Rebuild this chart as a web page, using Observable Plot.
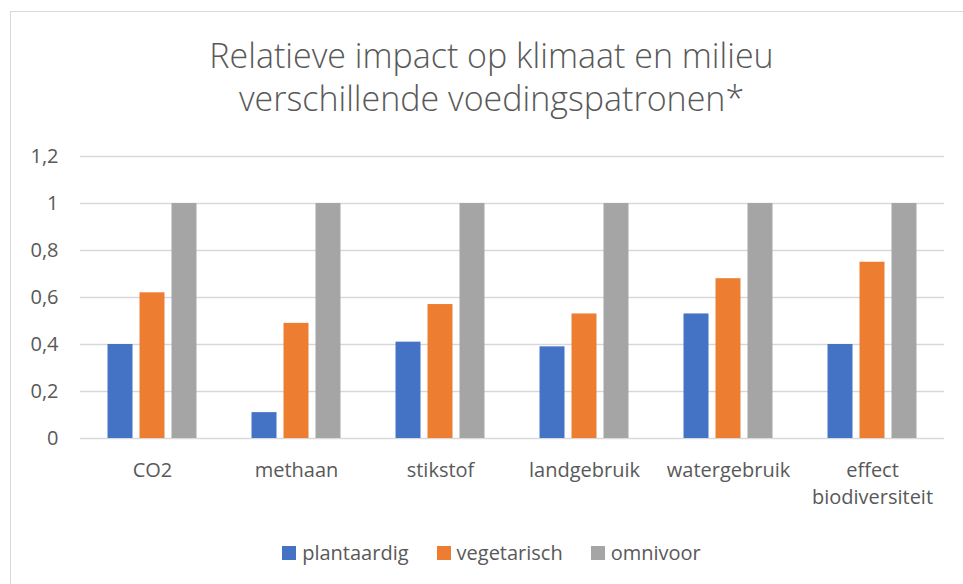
<!DOCTYPE html>
<html><head><meta charset="utf-8">
<script src="https://cdn.jsdelivr.net/npm/d3@7"></script>
<script src="https://cdn.jsdelivr.net/npm/@observablehq/plot@0.6"></script>
<style>
body{margin:0;background:#fff;font-family:"Open Sans",sans-serif;}
#wrap{position:relative;width:963px;height:584px;overflow:hidden;background:#fff;}
#border{position:absolute;left:10px;top:11px;width:1000px;height:620px;border:1.5px solid #d9d9d9;box-sizing:border-box;}
#title{position:absolute;left:10px;top:34px;width:963px;text-align:center;color:#595959;font-size:34px;line-height:43px;font-weight:300;}
#chart{position:absolute;left:0;top:0;}
#legend{position:absolute;left:10px;top:539px;width:963px;display:flex;justify-content:center;align-items:center;gap:28px;color:#595959;font-size:20px;}
#legend .item{display:flex;align-items:center;gap:6px;}
#legend .sw{width:14px;height:14px;display:inline-block;}
</style></head>
<body>
<div id="wrap">
  <div id="border"></div>
  <div id="title">Relatieve impact op klimaat en milieu<br>verschillende voedingspatronen*</div>
  <div id="chart"></div>
  <div id="legend"></div>
</div>
<script>
const categories = ["CO2", "methaan", "stikstof", "landgebruik", "watergebruik", "effect\nbiodiversiteit"];
const series = ["plantaardig", "vegetarisch", "omnivoor"];
const plantaardig = [0.40, 0.11, 0.41, 0.39, 0.53, 0.40];
const vegetarisch = [0.62, 0.49, 0.57, 0.53, 0.68, 0.75];
const omnivoor = [1, 1, 1, 1, 1, 1];
const yTicks = [0, 0.2, 0.4, 0.6, 0.8, 1, 1.2];
const colors = ["#4472C4", "#ED7D31", "#A5A5A5"];

const valuesBySeries = [plantaardig, vegetarisch, omnivoor];
const rows = [];
categories.forEach((c, i) => series.forEach((s, j) => rows.push({cat: c, serie: s, value: valuesBySeries[j][i]})));

const fmt = d => String(d).replace(".", ",");

const chart = Plot.plot({
  width: 963,
  height: 520,
  marginLeft: 80,
  marginRight: 19,
  marginTop: 156,
  marginBottom: 82,
  style: {fontFamily: "'Open Sans', sans-serif", fontSize: "20px", color: "#595959", background: "transparent"},
  fx: {domain: categories, padding: 0, axis: null},
  x: {domain: series, paddingInner: 0.219, paddingOuter: 0.86, axis: null, round: false},
  y: {domain: [0, 1.2], ticks: yTicks, tickFormat: fmt, tickSize: 0, tickPadding: 22, label: null},
  color: {domain: series, range: colors},
  marks: [
    Plot.ruleY(yTicks, {stroke: "#d9d9d9", strokeWidth: 1.3}),
    Plot.barY(rows, {fx: "cat", x: "serie", y: "value", fill: "serie"}),
    Plot.text(categories, {fx: d => d, text: d => d, frameAnchor: "bottom", lineAnchor: "top", dy: 19, lineHeight: 1.35, fill: "#595959", fontSize: 20})
  ]
});
document.getElementById("chart").appendChild(chart);

const legend = document.getElementById("legend");
series.forEach((s, i) => {
  const item = document.createElement("div");
  item.className = "item";
  const sw = document.createElement("span");
  sw.className = "sw";
  sw.style.background = colors[i];
  const t = document.createElement("span");
  t.textContent = s;
  item.appendChild(sw); item.appendChild(t);
  legend.appendChild(item);
});
</script>
</body></html>
